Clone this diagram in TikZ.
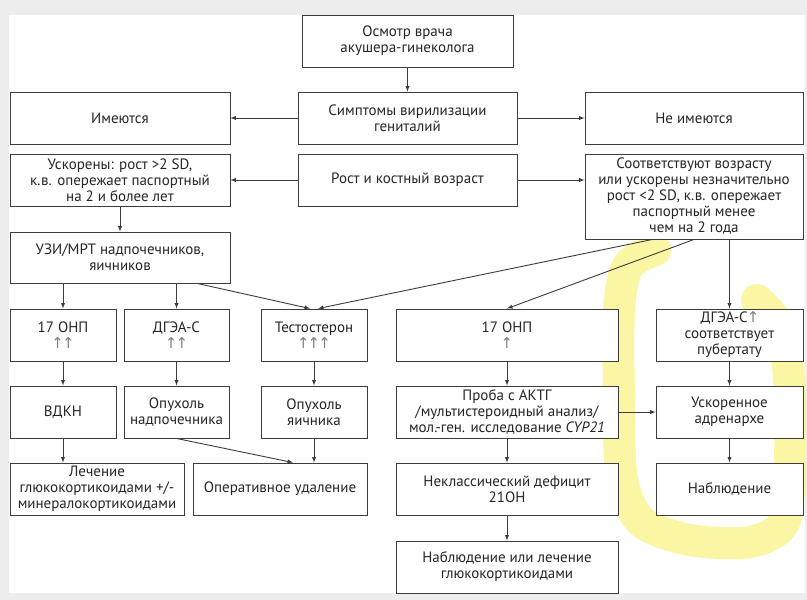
\documentclass[tikz,border=0pt]{standalone}
\usepackage{fontspec}
\setmainfont{PT Sans}
\newfontfamily\symfont{DejaVu Sans}
\usepackage{tikz}
\usetikzlibrary{arrows,calc}
\definecolor{linegray}{HTML}{3C3C3C}
\definecolor{bggray}{HTML}{EDEDED}
\definecolor{marker}{HTML}{FBF6A4}
\newcommand{\uarr}{{\symfont\color{gray}\kern-1pt\char"2191\kern-1pt}}

\begin{document}
\begin{tikzpicture}[x=1pt,y=-1pt,
  box/.style={draw=linegray,fill=white,line width=0.9pt,align=center,inner sep=1pt,text=black!85,
    font=\fontsize{15}{16}\selectfont},
  arr/.style={draw=linegray,line width=0.9pt,-latex}]
\useasboundingbox (0,0) rectangle (807,600);
\fill[bggray] (0,0) rectangle (807,600);
\fill[white] (9,15) rectangle (805,593);

% highlighter
\begin{scope}
\clip (9,15) rectangle (805,593);
\draw[marker,line width=32pt,line cap=round] plot[smooth] coordinates
  {(655,250) (628,266) (619,310) (619,400) (622,480) (642,522) (690,540) (750,542) (784,522) (790,460) (789,380) (782,330) (757,300)};
\end{scope}

% top
\node[box,minimum width=211pt,minimum height=52pt] (osmotr) at (407.5,41) {Осмотр врача\\акушера-гинеколога};
\node[box,minimum width=219pt,minimum height=52pt] (sympt) at (407.5,118) {Симптомы вирилизации\\гениталий};
\node[box,minimum width=220pt,minimum height=52pt] (yes) at (120,118) {Имеются};
\node[box,minimum width=218pt,minimum height=52pt] (no) at (694,118) {Не имеются};
\node[box,minimum width=220pt,minimum height=52pt] (fast) at (120,180) {Ускорены: рост >2 SD,\\к.в. опережает паспортный\\на 2 и более лет};
\node[box,minimum width=219pt,minimum height=52pt] (growth) at (407.5,180) {Рост и костный возраст};
\node[box,minimum width=218pt,minimum height=85pt] (norm) at (694,196.5) {Соответствуют возрасту\\или ускорены незначительно\\рост <2 SD, к.в. опережает\\паспортный менее\\чем на 2 года};
\node[box,minimum width=220pt,minimum height=51pt] (uzi) at (120,257.5) {УЗИ/МРТ надпочечников,\\яичников};

% hormones
\node[box,minimum width=106pt,minimum height=52pt] (ohpa) at (63,335) {17 ОНП\\\uarr\uarr};
\node[box,minimum width=105pt,minimum height=52pt] (dhea) at (176.5,335) {ДГЭА-С\\\uarr\uarr};
\node[box,minimum width=106pt,minimum height=52pt] (testo) at (314,335) {Тестостерон\\\uarr\uarr\uarr};
\node[box,minimum width=222pt,minimum height=52pt] (ohpb) at (507,335) {17 ОНП\\\uarr};
\node[box,minimum width=147pt,minimum height=52pt] (dheab) at (729.5,335) {ДГЭА-С\uarr\\соответствует\\пубертату};

% diagnoses
\node[box,minimum width=106pt,minimum height=52pt] (vdkn) at (63,412) {ВДКН};
\node[box,minimum width=105pt,minimum height=52pt] (tumadr) at (176.5,412) {Опухоль\\надпочечника};
\node[box,minimum width=106pt,minimum height=52pt] (tumov) at (314,412) {Опухоль\\яичника};
\node[box,minimum width=222pt,minimum height=52pt] (acth) at (507,412) {Проба с АКТГ\\/мультистероидный анализ/\\мол.-ген. исследование \textit{CYP21}};
\node[box,minimum width=147pt,minimum height=52pt] (adren) at (729.5,412) {Ускоренное\\адренархе};

% outcomes
\node[box,minimum width=174pt,minimum height=52pt] (treat) at (97,489) {Лечение\\глюкокортикоидами +/-\\минералокортикоидами};
\node[box,minimum width=174pt,minimum height=52pt] (surg) at (280,489) {Оперативное удаление};
\node[box,minimum width=222pt,minimum height=52pt] (noncl) at (507,489) {Неклассический дефицит\\21ОН};
\node[box,minimum width=147pt,minimum height=52pt] (obs) at (729.5,489) {Наблюдение};
\node[box,minimum width=222pt,minimum height=52pt] (final) at (507,567) {Наблюдение или лечение\\глюкокортикоидами};

\draw[arr] (osmotr) -- (sympt);
\draw[arr] (sympt) -- (yes);
\draw[arr] (sympt) -- (no);
\draw[arr] (growth) -- (fast);
\draw[arr] (growth.east) -- (growth.east -| norm.west);
\draw[arr] (fast) -- (uzi);
\draw[arr] (ohpa.north |- uzi.south) -- (ohpa.north);
\draw[arr] (dhea.north |- uzi.south) -- (dhea.north);
\draw[arr] ($(uzi.south)!0.7!(uzi.south east)$) -- ($(testo.north)+(-4,0)$);
\draw[arr] ($(norm.south west)!0.62!(norm.south)$) -- ($(testo.north)+(4,0)$);
\draw[arr] (norm.south) -- (ohpb.north);
\draw[arr] (dheab.north |- norm.south) -- (dheab.north);
\draw[arr] (ohpa) -- (vdkn);
\draw[arr] (dhea) -- (tumadr);
\draw[arr] (testo) -- (tumov);
\draw[arr] (ohpb) -- (acth);
\draw[arr] (dheab) -- (adren);
\draw[arr] (acth) -- (adren);
\draw[arr] (vdkn.south) -- (vdkn.south |- treat.north);
\draw[arr] (tumadr.south) -- ($(surg.north)+(13,0)$);
\draw[arr] (tumov.south) -- (tumov.south |- surg.north);
\draw[arr] (acth) -- (noncl);
\draw[arr] (adren) -- (obs);
\draw[arr] (noncl) -- (final);
\end{tikzpicture}
\end{document}
